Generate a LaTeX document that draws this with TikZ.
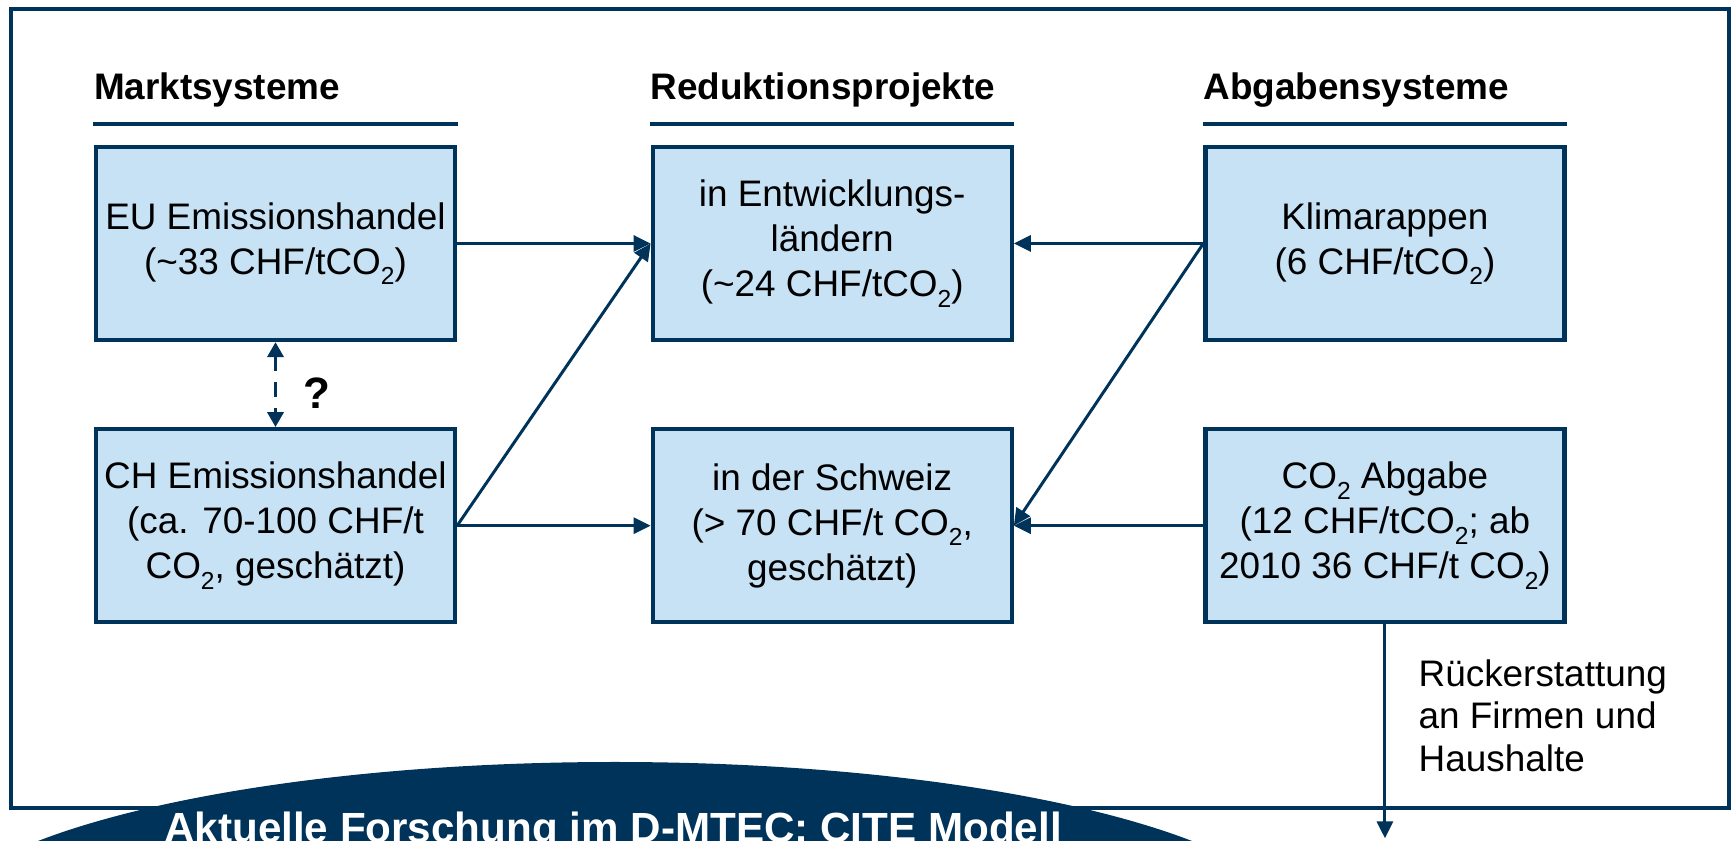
\documentclass[tikz,border=0pt]{standalone}
\usepackage{fontspec}
\setmainfont{Liberation Sans}
\usepackage{xcolor}
\usepackage{tikz}
\usetikzlibrary{arrows.meta, positioning}

\definecolor{ethblue}{HTML}{003359}
\definecolor{boxblue}{HTML}{C6E2F4}
\newcommand{\lowsub}[1]{\raisebox{-0.28em}{\fontsize{7}{7}\selectfont #1}}

\begin{document}
\begin{tikzpicture}[
        node distance=0.85cm and 1.92cm,
        block/.style={rectangle, draw=ethblue, line width=1.2pt, minimum width=3.59cm, minimum height=1.93cm, align=center, fill=boxblue, inner sep=0pt, font=\fontsize{10.5}{12.8}\selectfont},
        header/.style={text width=3.63cm, align=left, inner xsep=0pt, inner ysep=0pt, text depth=0.24cm, font=\fontsize{10.5}{12.8}\selectfont\bfseries},
        rule/.style={ethblue, line width=0.95pt},
        arrow/.style={-{Triangle[length=1.7mm, width=1.6mm]}, ethblue, line width=0.85pt},
        dasharrow/.style={{Triangle[length=1.5mm, width=1.6mm]}-{Triangle[length=1.5mm, width=1.6mm]}, ethblue, line width=1pt, dash pattern=on 1.5mm off 1.1mm},
        note/.style={align=left, inner sep=0pt, font=\fontsize{10.5}{12}\selectfont}
    ]
        \useasboundingbox (0,0) rectangle (17.32,-8.41);

        % Frame
        \draw[ethblue, line width=0.9pt] (0.11,-0.09) rectangle (17.29,-8.08);

        % Boxes
        \node[block] (eu) at (2.755,-2.435) {EU Emissionshandel\\(\textasciitilde 33 CHF/tCO\lowsub{2})};
        \node[block, below=of eu] (ch) {CH Emissionshandel\\(ca. 70-100 CHF/t\\CO\lowsub{2}, geschätzt)};
        \node[block, right=1.935cm of eu] (dev) {in Entwicklungs-\\ländern\\(\textasciitilde 24 CHF/tCO\lowsub{2})};
        \node[block, below=of dev] (swiss) {in der Schweiz\\(> 70 CHF/t CO\lowsub{2},\\geschätzt)};
        \node[block, right=1.895cm of dev] (klima) {Klimarappen\\(6 CHF/tCO\lowsub{2})};
        \node[block, below=of klima] (abgabe) {CO\lowsub{2} Abgabe\\(12 CHF/tCO\lowsub{2}; ab\\2010 36 CHF/t CO\lowsub{2})};

        % Headers
        \node[header, above=0.21cm of eu] (hmarkt) {Marktsysteme};
        \node[header, above=0.21cm of dev] (hreduk) {Reduktionsprojekte};
        \node[header, above=0.21cm of klima] (habgab) {Abgabensysteme};
        \draw[rule] (hmarkt.south west) -- (hmarkt.south east);
        \draw[rule] (hreduk.south west) -- (hreduk.south east);
        \draw[rule] (habgab.south west) -- (habgab.south east);

        % Arrows
        \draw[dasharrow] (eu) -- node[right=0.26cm, yshift=-0.09cm, inner sep=0pt, text=black, font=\fontsize{12.5}{14}\selectfont\bfseries] (qmark) {?} (ch);
        \draw[arrow] (eu) -- (dev);
        \draw[arrow] (ch.east) -- (dev.west);
        \draw[arrow] (ch) -- (swiss);
        \draw[arrow] (klima) -- (dev);
        \draw[arrow] (klima.west) -- (swiss.east);
        \draw[arrow] (abgabe) -- (swiss);

        % Refund
        \coordinate (refund) at ([yshift=-2.14cm]abgabe.south);
        \draw[arrow] (abgabe) -- (refund);
        \node[note, below right=0.35cm and 0.33cm of abgabe.south] (refundtxt) {Rückerstattung\\an Firmen und\\Haushalte};

        % Research oval
        \fill[ethblue] (6.15,-9.37) ellipse [x radius=6.9, y radius=1.75];
        \node[anchor=base, text=white, inner sep=0pt, font=\fontsize{12}{14}\selectfont\bfseries] (cite) at (6.13,-8.43) {Aktuelle Forschung im D-MTEC: CITE Modell};

    \end{tikzpicture}
\end{document}
